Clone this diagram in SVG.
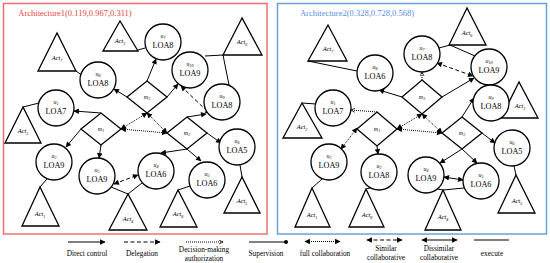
<svg xmlns="http://www.w3.org/2000/svg" width="550" height="263" viewBox="0 0 550 263">
<style>
.nd{fill:#fff;stroke:#000;stroke-width:1.3}
.ln{stroke:#000;stroke-width:1;fill:none}
.dc{marker-end:url(#ah)}
.db{marker-start:url(#ah);marker-end:url(#ah)}
.dash{stroke-dasharray:4 2.5}
.dot{stroke-dasharray:1 1}
.op{marker-end:url(#oh)}
text{font-family:"Liberation Serif","Times New Roman",serif;text-anchor:middle;fill:#000}
.loa{font-size:8.2px}
.u{font-size:6px;font-style:italic}
.act{font-size:6.5px;font-style:italic}
.sub{font-size:4px}
.leg{font-size:7.3px}
</style>
<defs>
<marker id="ah" viewBox="0 0 10 10" refX="9" refY="5" markerWidth="7" markerHeight="5.5" markerUnits="userSpaceOnUse" orient="auto-start-reverse"><path d="M0,0 L10,5 L0,10 z" fill="#000"/></marker>
<marker id="oh" viewBox="0 0 10 10" refX="9" refY="5" markerWidth="5" markerHeight="5" markerUnits="userSpaceOnUse" orient="auto"><path d="M1,1 L9,5 L1,9" fill="none" stroke="#000" stroke-width="1.5"/></marker>
<marker id="dt" viewBox="0 0 10 10" refX="5" refY="5" markerWidth="4" markerHeight="4" markerUnits="userSpaceOnUse"><circle cx="5" cy="5" r="5" fill="#000"/></marker>
</defs>
<rect width="550" height="263" fill="#fff"/>

<g id="frames">
<rect x="3.5" y="3.5" width="263.5" height="230.5" fill="none" stroke="#f07070" stroke-width="1.5"/>
<rect x="277.5" y="3.5" width="269" height="230.5" fill="none" stroke="#6d9fdc" stroke-width="1.5"/>
<text x="75" y="16" font-size="8.5" style="fill:#e8403a">Architecture1(0.119,0.967,0.311)</text>
<text x="357" y="16" font-size="8.5" style="fill:#5a8ee0">Architecture2(0.328,0.728,0.568)</text>
</g>

<g id="connectors">
<path class="ln" d="M76,71 L83,76"/>
<path class="ln" d="M138,50 L145,48"/>
<path class="ln" d="M205,56 L223,55 L229,85"/>
<path class="ln" d="M23,107 L39,103"/>
<path class="ln" d="M40,187 L47,179"/>
<path class="ln" d="M111,187 L128,194 L142,183"/>
<path class="ln" d="M178,190 L190,186"/>
<path class="ln" d="M240,165 L242,177"/>
<path class="ln dc" d="M127,97 L114,89"/>
<path class="ln dc" d="M147,81 L156,59"/>
<path class="ln dc" d="M167,97 L178,84"/>
<path class="ln dc" d="M101,113 L74,111"/>
<path class="ln dc" d="M81,129 L66,147"/>
<path class="ln dc" d="M101,145 L99,158"/>
<path class="ln dc" d="M187,117 L206,114"/>
<path class="ln dc" d="M207,133 L221,143"/>
<path class="ln dc" d="M187,149 L161,153"/>
<path class="ln dc" d="M187,149 L201,161"/>
<path class="ln dash db" d="M181,86 L210,114"/>
<path class="ln dash db" d="M114,184 L138,175"/>
<path class="ln dot db" d="M147,113 L121,129"/>
<path class="ln dot db" d="M147,113 L167,133"/>
<path class="ln dot db" d="M121,129 L167,133"/>

<path class="ln" d="M308,61 L357,71"/>
<path class="ln" d="M439,48 L450,45 L475,56"/>
<path class="ln" d="M302,103 L316,104"/>
<path class="ln" d="M322,179 L312,188"/>
<path class="ln" d="M370,188 L366,189"/>
<path class="ln" d="M437,189 L443,190 L464,188"/>
<path class="ln" d="M514,166 L516,175"/>
<path class="ln dc" d="M402,97 L379,90"/>
<path class="ln dc" d="M442,97 L474,78"/>
<path class="ln dc" d="M377,146 L378,154"/>
<path class="ln dc" d="M462,117 L474,98"/>
<path class="ln dc" d="M482,133 L495,143"/>
<path class="ln dc" d="M462,149 L440,163"/>
<path class="ln dc" d="M462,149 L477,163"/>
<path class="ln dot op" d="M422,80 L422,72"/>
<path class="ln dot op" d="M377,112 L351,110"/>
<path class="ln dot db" d="M357,128 L341,149"/>
<path class="ln dot db" d="M422,114 L397,129"/>
<path class="ln dot db" d="M422,114 L442,133"/>
<path class="ln dot db" d="M397,129 L442,133"/>
<path class="ln dash db" d="M437,63 L473,76"/>
<path class="ln db" d="M444,177 L463,180"/>
</g>

<g id="L-act7"><polygon class="nd" points="57,33 38,71 76,71"/><text class="act" x="57" y="60">Act<tspan class="sub" dy="1.5">7</tspan></text></g>
<g id="L-act3"><polygon class="nd" points="120,21 103,51 138,51"/><text class="act" x="120" y="43">Act<tspan class="sub" dy="1.5">3</tspan></text></g>
<g id="L-act6"><polygon class="nd" points="242,18 223,55 262,55"/><text class="act" x="242" y="44">Act<tspan class="sub" dy="1.5">6</tspan></text></g>
<g id="L-act2"><polygon class="nd" points="23,107 5,143 41,143"/><text class="act" x="23" y="133">Act<tspan class="sub" dy="1.5">2</tspan></text></g>
<g id="L-act1"><polygon class="nd" points="40,187 22,226 59,226"/><text class="act" x="40" y="216">Act<tspan class="sub" dy="1.5">1</tspan></text></g>
<g id="L-act4"><polygon class="nd" points="128,194 109,230 147,230"/><text class="act" x="128" y="221">Act<tspan class="sub" dy="1.5">4</tspan></text></g>
<g id="L-act8"><polygon class="nd" points="178,190 160,227 197,227"/><text class="act" x="178" y="216">Act<tspan class="sub" dy="1.5">8</tspan></text></g>
<g id="L-act5"><polygon class="nd" points="242,177 224,213 260,213"/><text class="act" x="242" y="203">Act<tspan class="sub" dy="1.5">5</tspan></text></g>

<g id="L-u8"><circle class="nd" cx="98" cy="80" r="18"/><text class="u" x="98" y="76">u<tspan class="sub" dy="1">8</tspan></text><text class="loa" x="98" y="86">LOA8</text></g>
<g id="L-u7"><circle class="nd" cx="163" cy="42" r="18"/><text class="u" x="163" y="38">u<tspan class="sub" dy="1">7</tspan></text><text class="loa" x="163" y="48">LOA8</text></g>
<g id="L-u10"><circle class="nd" cx="190" cy="70" r="18"/><text class="u" x="190" y="66">u<tspan class="sub" dy="1">10</tspan></text><text class="loa" x="190" y="76">LOA9</text></g>
<g id="L-u9"><circle class="nd" cx="222" cy="102" r="18"/><text class="u" x="222" y="98">u<tspan class="sub" dy="1">9</tspan></text><text class="loa" x="222" y="108">LOA8</text></g>
<g id="L-u1"><circle class="nd" cx="56" cy="108" r="18"/><text class="u" x="56" y="104">u<tspan class="sub" dy="1">1</tspan></text><text class="loa" x="56" y="114">LOA7</text></g>
<g id="L-u2"><circle class="nd" cx="54" cy="162" r="18"/><text class="u" x="54" y="158">u<tspan class="sub" dy="1">2</tspan></text><text class="loa" x="54" y="168">LOA9</text></g>
<g id="L-u3"><circle class="nd" cx="97" cy="176" r="18"/><text class="u" x="97" y="172">u<tspan class="sub" dy="1">3</tspan></text><text class="loa" x="97" y="182">LOA9</text></g>
<g id="L-u4"><circle class="nd" cx="156" cy="171" r="18"/><text class="u" x="156" y="167">u<tspan class="sub" dy="1">4</tspan></text><text class="loa" x="156" y="177">LOA6</text></g>
<g id="L-u5"><circle class="nd" cx="207" cy="180" r="18"/><text class="u" x="207" y="176">u<tspan class="sub" dy="1">5</tspan></text><text class="loa" x="207" y="186">LOA6</text></g>
<g id="L-u6"><circle class="nd" cx="237" cy="147" r="18"/><text class="u" x="237" y="143">u<tspan class="sub" dy="1">6</tspan></text><text class="loa" x="237" y="153">LOA5</text></g>

<g id="L-m3"><polygon class="nd" points="147,81 167,97 147,113 127,97"/><text class="u" x="147" y="99">m<tspan class="sub" dy="1">3</tspan></text></g>
<g id="L-m1"><polygon class="nd" points="101,113 121,129 101,145 81,129"/><text class="u" x="101" y="131">m<tspan class="sub" dy="1">1</tspan></text></g>
<g id="L-m2"><polygon class="nd" points="187,117 207,133 187,149 167,133"/><text class="u" x="187" y="135">m<tspan class="sub" dy="1">2</tspan></text></g>

<g id="R-act7"><polygon class="nd" points="328,25 308,61 347,61"/><text class="act" x="328" y="51">Act<tspan class="sub" dy="1.5">7</tspan></text></g>
<g id="R-act6"><polygon class="nd" points="467,8 449,45 486,45"/><text class="act" x="467" y="35">Act<tspan class="sub" dy="1.5">6</tspan></text></g>
<g id="R-act2"><polygon class="nd" points="302,103 283,138 322,138"/><text class="act" x="302" y="129">Act<tspan class="sub" dy="1.5">2</tspan></text></g>
<g id="R-act3"><polygon class="nd" points="519,82 501,118 538,118"/><text class="act" x="520" y="108">Act<tspan class="sub" dy="1.5">3</tspan></text></g>
<g id="R-act1"><polygon class="nd" points="312,188 295,227 330,227"/><text class="act" x="312" y="217">Act<tspan class="sub" dy="1.5">1</tspan></text></g>
<g id="R-act8"><polygon class="nd" points="366,189 349,227 384,227"/><text class="act" x="367" y="217">Act<tspan class="sub" dy="1.5">8</tspan></text></g>
<g id="R-act4"><polygon class="nd" points="443,190 425,230 461,230"/><text class="act" x="443" y="219">Act<tspan class="sub" dy="1.5">4</tspan></text></g>
<g id="R-act5"><polygon class="nd" points="516,175 498,213 535,213"/><text class="act" x="517" y="203">Act<tspan class="sub" dy="1.5">5</tspan></text></g>

<g id="R-u8"><circle class="nd" cx="375" cy="73" r="18"/><text class="u" x="375" y="69">u<tspan class="sub" dy="1">8</tspan></text><text class="loa" x="375" y="79">LOA6</text></g>
<g id="R-u7"><circle class="nd" cx="422" cy="54" r="18"/><text class="u" x="422" y="50">u<tspan class="sub" dy="1">7</tspan></text><text class="loa" x="422" y="60">LOA8</text></g>
<g id="R-u10"><circle class="nd" cx="489" cy="67" r="18"/><text class="u" x="489" y="63">u<tspan class="sub" dy="1">10</tspan></text><text class="loa" x="489" y="73">LOA9</text></g>
<g id="R-u9"><circle class="nd" cx="491" cy="103" r="18"/><text class="u" x="491" y="99">u<tspan class="sub" dy="1">9</tspan></text><text class="loa" x="491" y="109">LOA8</text></g>
<g id="R-u1"><circle class="nd" cx="333" cy="108" r="18"/><text class="u" x="333" y="104">u<tspan class="sub" dy="1">1</tspan></text><text class="loa" x="333" y="114">LOA7</text></g>
<g id="R-u2"><circle class="nd" cx="329" cy="162" r="18"/><text class="u" x="329" y="158">u<tspan class="sub" dy="1">2</tspan></text><text class="loa" x="329" y="168">LOA9</text></g>
<g id="R-u3"><circle class="nd" cx="379" cy="172" r="18"/><text class="u" x="379" y="168">u<tspan class="sub" dy="1">3</tspan></text><text class="loa" x="379" y="178">LOA8</text></g>
<g id="R-u4"><circle class="nd" cx="426" cy="175" r="18"/><text class="u" x="426" y="171">u<tspan class="sub" dy="1">4</tspan></text><text class="loa" x="426" y="181">LOA9</text></g>
<g id="R-u5"><circle class="nd" cx="481" cy="181" r="18"/><text class="u" x="481" y="177">u<tspan class="sub" dy="1">5</tspan></text><text class="loa" x="481" y="187">LOA6</text></g>
<g id="R-u6"><circle class="nd" cx="512" cy="148" r="18"/><text class="u" x="512" y="144">u<tspan class="sub" dy="1">6</tspan></text><text class="loa" x="512" y="154">LOA5</text></g>

<g id="R-m3"><polygon class="nd" points="422,80 442,97 422,114 402,97"/><text class="u" x="422" y="99">m<tspan class="sub" dy="1">3</tspan></text></g>
<g id="R-m1"><polygon class="nd" points="377,112 397,129 377,146 357,129"/><text class="u" x="377" y="131">m<tspan class="sub" dy="1">1</tspan></text></g>
<g id="R-m2"><polygon class="nd" points="462,117 482,133 462,149 442,133"/><text class="u" x="462" y="135">m<tspan class="sub" dy="1">2</tspan></text></g>

<g id="legend">
<path class="ln dc" d="M68,242 L105,242"/>
<text class="leg" x="87" y="255.5">Direct control</text>
<path class="ln dash dc" d="M124,242 L160,242"/>
<text class="leg" x="142" y="255.5">Delegation</text>
<path class="ln dot op" d="M186,242 L223,242"/>
<text class="leg" x="204" y="251.5">Decision-making</text>
<text class="leg" x="204" y="260.5">authorization</text>
<path class="ln" d="M249,242 L286,242" marker-end="url(#dt)"/>
<text class="leg" x="266" y="255.5">Supervision</text>
<path class="ln dot db" d="M305,241.5 L340,241.5"/>
<text class="leg" x="325" y="256">full collaboration</text>
<path class="ln dash db" d="M367,240 L402,240"/>
<text class="leg" x="386" y="251">Similar</text>
<text class="leg" x="386" y="260">collaborative</text>
<path class="ln db" d="M422,240 L457,240"/>
<text class="leg" x="439" y="251">Dissimilar</text>
<text class="leg" x="439" y="260">collaborative</text>
<path class="ln" d="M474,240 L509,240"/>
<text class="leg" x="492" y="255.5">execute</text>
</g>
</svg>
